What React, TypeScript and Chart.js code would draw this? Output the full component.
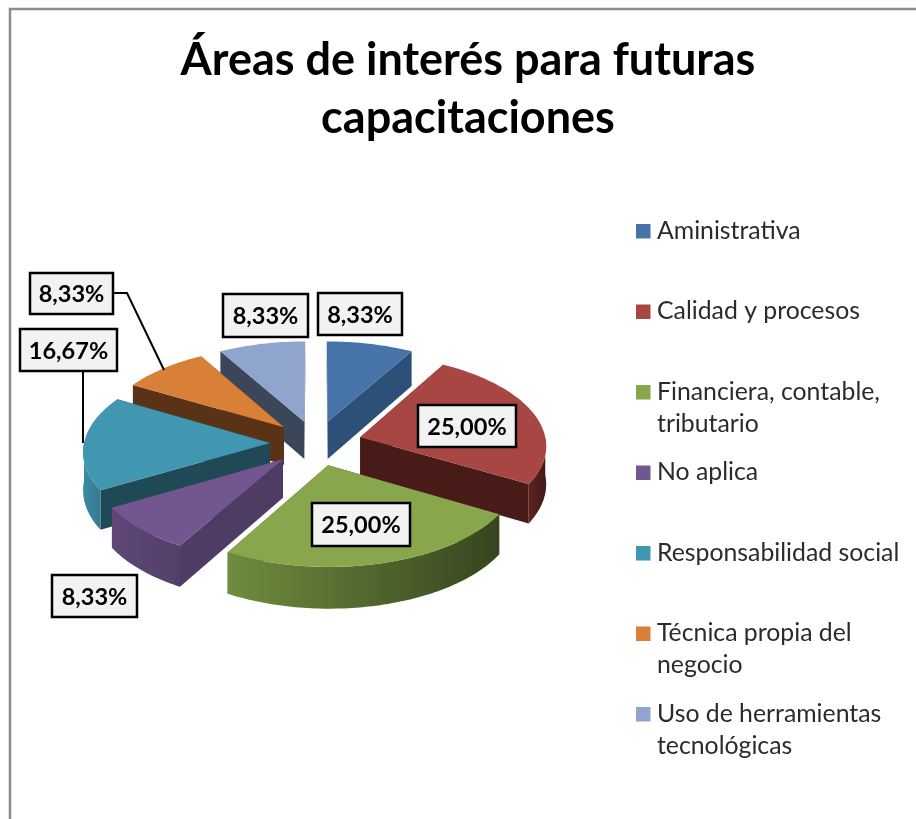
import React, { useEffect, useRef } from "react";
import { Chart, registerables } from "chart.js";

Chart.register(...registerables);

const categories = [
  "Aministrativa",
  "Calidad y procesos",
  "Financiera, contable, tributario",
  "No aplica",
  "Responsabilidad social",
  "Técnica propia del negocio",
  "Uso de herramientas tecnológicas",
];
const percentages = [8.33, 25.0, 25.0, 8.33, 16.67, 8.33, 8.33];
const titleLines = ["Áreas de interés para futuras", "capacitaciones"];
const legendLines = [
  ["Aministrativa"],
  ["Calidad y procesos"],
  ["Financiera, contable,", "tributario"],
  ["No aplica"],
  ["Responsabilidad social"],
  ["Técnica propia del", "negocio"],
  ["Uso de herramientas", "tecnológicas"],
];

const topColors = ["#4674a8", "#a84644", "#88a64c", "#715690", "#4197b1", "#d98038", "#90a5cd"];
const faceColors = ["#2d5079", "#491b18", "#3a4a20", "#4f3c65", "#1f4a55", "#5a3317", "#3b4659"];
const rimLeft = ["#2d5079", "#5c2320", "#6f8c3f", "#5f4777", "#3c8aa3", "#8a5226", "#3b4659"];
const rimRight = ["#2d5079", "#431917", "#36451e", "#52406a", "#357a90", "#5a3317", "#3b4659"];
const labelBoxes = [
  [318, 293, 402, 335],
  [418, 405, 516, 447],
  [312, 503, 410, 546],
  [52, 575, 137, 617],
  [20, 329, 117, 371],
  [30, 273, 113, 314],
  [223, 294, 308, 337],
];
const leaders: Record<number, number[][]> = {
  4: [[83, 371], [83, 443]],
  5: [[113, 293], [127, 293], [164, 370]],
};

const CX = 316, CY = 443, R0 = 186, K = 91, DEPTH = 38, EXPLODE = 46, PERSP = 0.08;

function project(X: number, Y: number) {
  const s = 1 + PERSP * Y;
  return { x: CX + R0 * X * s, y: CY + K * Y * s, s };
}

const pie3d = {
  id: "pie3d",
  beforeDatasetsDraw(chart: any) {
    const ctx = chart.ctx;
    const arcs = chart.getDatasetMeta(0).data;
    const order = arcs
      .map((arc: any, i: number) => ({ arc, i, mid: (arc.startAngle + arc.endAngle) / 2 }))
      .sort((a: any, b: any) => Math.sin(a.mid) - Math.sin(b.mid));

    for (const { arc, i, mid } of order) {
      const e = arc.options.offset / R0;
      const ox = Math.cos(mid) * e, oy = Math.sin(mid) * e;
      const top = (a: number, r = 1) => project(ox + Math.cos(a) * r, oy + Math.sin(a) * r);
      const apex = project(ox, oy);
      const pts = (a0: number, a1: number) => {
        const n = Math.max(2, Math.ceil(Math.abs(a1 - a0) / 0.02));
        const out = [];
        for (let k = 0; k <= n; k++) out.push(top(a0 + ((a1 - a0) * k) / n));
        return out;
      };
      const fillPoly = (list: any[], style: any) => {
        ctx.beginPath();
        list.forEach((p, k) => (k ? ctx.lineTo(p.x, p.y) : ctx.moveTo(p.x, p.y)));
        ctx.closePath();
        ctx.fillStyle = style;
        ctx.fill();
      };
      const down = (p: any) => ({ x: p.x, y: p.y + DEPTH * p.s });

      // cut faces
      for (const a of [arc.startAngle, arc.endAngle]) {
        const t = top(a);
        fillPoly([apex, t, down(t), down(apex)], faceColors[i]);
      }
      // rim (front half only)
      const b0 = Math.max(arc.startAngle, 0), b1 = Math.min(arc.endAngle, Math.PI);
      if (b1 > b0) {
        const edge = pts(b0, b1);
        const xs = edge.map((p: any) => p.x);
        const g = ctx.createLinearGradient(Math.min(...xs), 0, Math.max(...xs), 0);
        g.addColorStop(0, rimLeft[i]);
        g.addColorStop(1, rimRight[i]);
        fillPoly([...edge, ...edge.slice().reverse().map(down)], g);
      }
      // top face
      fillPoly([apex, ...pts(arc.startAngle, arc.endAngle)], arc.options.backgroundColor);
    }

    // leader lines
    ctx.strokeStyle = "#000";
    ctx.lineWidth = 2;
    ctx.beginPath();
    Object.values(leaders).forEach((line) => {
      line.forEach(([x, y], k) => (k ? ctx.lineTo(x, y) : ctx.moveTo(x, y)));
    });
    ctx.stroke();

    // data labels
    ctx.font = "bold 23.5px Lato";
    ctx.textAlign = "center";
    ctx.textBaseline = "middle";
    percentages.forEach((v, i) => {
      const [x0, y0, x1, y1] = labelBoxes[i];
      ctx.fillStyle = "#f2f2f2";
      ctx.fillRect(x0, y0, x1 - x0, y1 - y0);
      ctx.strokeStyle = "#000";
      ctx.lineWidth = 2.5;
      ctx.strokeRect(x0, y0, x1 - x0, y1 - y0);
      ctx.fillStyle = "#000";
      ctx.fillText(`${v.toFixed(2).replace(".", ",")}%`, (x0 + x1) / 2, (y0 + y1) / 2 + 1);
    });

    // legend
    ctx.font = "24.8px Lato";
    ctx.textAlign = "left";
    ctx.textBaseline = "middle";
    legendLines.forEach((lines, i) => {
      const y = 231 + i * 80.5;
      ctx.fillStyle = topColors[i];
      ctx.fillRect(636, y - 7, 14.5, 14.5);
      ctx.fillStyle = "#2b2b2b";
      lines.forEach((t, k) => ctx.fillText(t, 657, y + k * 32));
    });
    return false;
  },
  beforeDraw(chart: any) {
    const ctx = chart.ctx;
    ctx.save();
    ctx.fillStyle = "#fff";
    ctx.fillRect(0, 0, 916, 819);
    ctx.strokeStyle = "#8c8c8c";
    ctx.lineWidth = 2.5;
    ctx.beginPath();
    ctx.moveTo(10, 819);
    ctx.lineTo(10, 9);
    ctx.lineTo(916, 9);
    ctx.stroke();
    ctx.restore();
  },
};

export default function App() {
  const ref = useRef<HTMLCanvasElement>(null);
  useEffect(() => {
    const chart = new Chart(ref.current!, {
      type: "pie",
      data: {
        labels: categories,
        datasets: [
          {
            data: percentages,
            backgroundColor: topColors,
            borderWidth: 0,
            offset: EXPLODE,
          },
        ],
      },
      options: {
        responsive: false,
        animation: false,
        layout: { padding: { left: 20 } },
        plugins: {
          legend: { display: false },
          tooltip: { enabled: false },
          title: {
            display: true,
            text: titleLines,
            color: "#000",
            font: { family: "Lato", size: 45, weight: "bold", lineHeight: 1.3 },
            padding: { top: 31, bottom: 10 },
          },
        },
      },
      plugins: [pie3d],
    } as any);
    return () => chart.destroy();
  }, []);
  return (
    <canvas
      ref={ref}
      width={916}
      height={819}
      style={{ position: "fixed", left: 0, top: 0, display: "block", filter: "blur(0.5px)" }}
    />
  );
}
